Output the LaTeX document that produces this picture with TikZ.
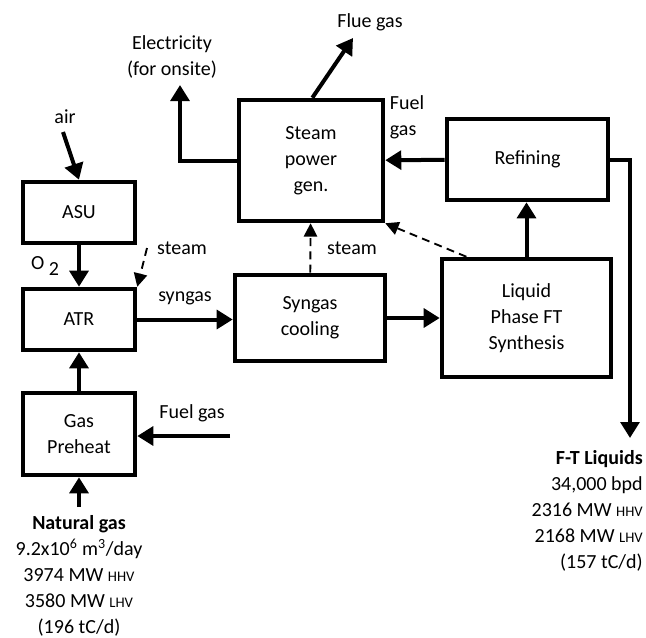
\documentclass[tikz,border=0pt]{standalone}
\usepackage{fontspec}
\setmainfont{Carlito}
\usetikzlibrary{arrows.meta,positioning}

\tikzset{
  unit/.style={draw,line width=3.4pt,align=center,inner sep=2pt},
  flow/.style={line width=3pt,-{Triangle[length=12pt,width=14pt]}},
  aux/.style={line width=1.4pt,dash pattern=on 6pt off 4pt,-{Triangle[length=10pt,width=10pt]}},
  lbl/.style={align=center,inner sep=0pt},
}
\newcommand{\hvsc}[1]{{\fontsize{11}{13}\selectfont #1}}

\begin{document}
\begin{tikzpicture}[x=0.75pt,y=-0.75pt,font=\fontsize{15}{19.5}\selectfont]
\useasboundingbox (0,0) rectangle (646,637);
% process units
\node[unit,minimum width=84pt,minimum height=45.75pt] (asu) at (79,212.5) {ASU};
\node[unit,minimum width=84pt,minimum height=45.75pt] (atr) at (79,319.5) {ATR};
\node[unit,minimum width=84pt,minimum height=61.5pt] (preheat) at (79,434) {Gas\\Preheat};
\node[unit,minimum width=112.5pt,minimum height=64.5pt] (cool) at (310,318) {Syngas\\cooling};
\node[unit,minimum width=108pt,minimum height=90.75pt] (steam) at (311,160.5) {Steam\\power\\gen.};
\node[unit,minimum width=120.75pt,minimum height=60.75pt] (refine) at (527.5,159.5) {Refining};
\node[unit,minimum width=126.75pt,minimum height=88.5pt] (ft) at (526.5,318) {Liquid\\Phase FT\\Synthesis};
% free ends
\coordinate (airin) at (63,132);
\coordinate (ngin) at (79,507);
\coordinate (fgin) at (230,436);
\coordinate (elec) at (180,85);
\coordinate (flue) at (353,38);
\coordinate (ftout) at (630,438);
\coordinate (stin) at (147,248);
% main flows
\draw[flow] (airin) -- (asu.north);
\draw[flow] (asu) -- (atr);
\draw[flow] (ngin) -- (preheat);
\draw[flow] (preheat) -- (atr);
\draw[flow] (fgin) -- (fgin -| preheat.east);
\draw[flow] (atr.east) -- (atr.east -| cool.west);
\draw[flow] (cool) -- (ft);
\draw[flow] (ft.north) -- (ft.north |- refine.south);
\draw[flow] (refine) -- (steam);
\draw[flow] (steam.west) -| (elec);
\draw[flow] ([xshift=1pt]steam.north) -- (flue);
\draw[flow] (refine.east) -| (ftout);
% steam lines
\draw[aux] (stin) -- (atr.north east);
\draw[aux] (cool) -- (steam);
\draw[aux] ([xshift=20pt]ft.north west) -- (steam.south east);
% labels
\node[lbl] (airlbl) at (65,117) {air};
\node[lbl] (eleclbl) at (172,57) {Electricity\\(for onsite)};
\node[lbl] (fluelbl) at (370,22) {Flue gas};
\node[lbl,align=left] (fuellbl) at (407,117) {Fuel\\gas};
\node[lbl] (stlbl) at (182,248) {steam};
\node[lbl] (o2lbl) at (45,266) {O~\raisebox{-4pt}{2}};
\node[lbl] (synlbl) at (185,298) {syngas};
\node[lbl] (stlbl2) at (352,248) {steam};
\node[lbl] (fglbl) at (192,413) {Fuel gas};
\node[lbl,anchor=north] (nglbl) at (79,515) {\textbf{Natural gas}\\9.2x10\textsuperscript{6} m\textsuperscript{3}/day\\3974 MW \hvsc{HHV}\\3580 MW \hvsc{LHV}\\(196 tC/d)};
\node[lbl,anchor=north east,align=right] (ftlbl) at (643,450) {\textbf{F-T Liquids}\\34,000 bpd\\2316 MW \hvsc{HHV}\\2168 MW \hvsc{LHV}\\(157 tC/d)};
\end{tikzpicture}
\end{document}
